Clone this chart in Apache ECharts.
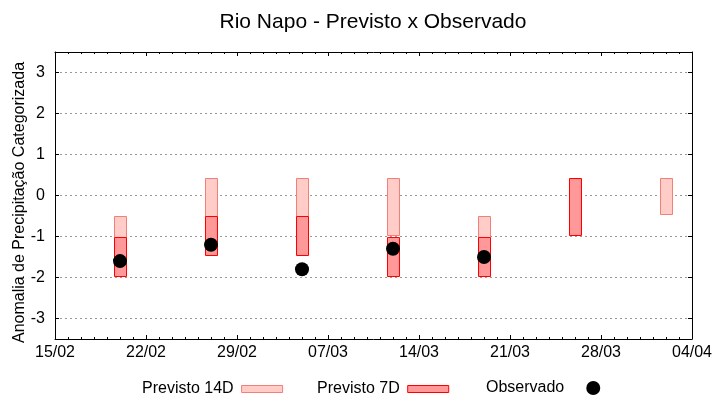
<!DOCTYPE html>
<html>
<head>
<meta charset="utf-8">
<script src="https://cdn.jsdelivr.net/npm/echarts@6/dist/echarts.min.js"></script>
<style>html,body{margin:0;padding:0;background:#fff}#c{width:720px;height:400px}</style>
</head>
<body>
<div id="c"></div>
<script>
// ---- data ----
var dates = ['2024-02-20','2024-02-27','2024-03-05','2024-03-12','2024-03-19','2024-03-26','2024-04-02'];
var prev14Low  = [-1.00, -0.50, -0.50, -0.95, -1.00, null, -0.44];
var prev14High = [-0.50,  0.43,  0.43,  0.43, -0.50, null,  0.43];
var prev7Low   = [-1.95, -1.44, -1.44, -1.95, -1.95, -0.95, null];
var prev7High  = [-1.00, -0.50, -0.50, -1.00, -1.00,  0.43, null];
var observado  = [-1.60, -1.20, -1.80, -1.30, -1.50, null, null];
var xStart = '2024-02-15', xEnd = '2024-04-04';
var yTicks = [-3, -2, -1, 0, 1, 2, 3];

var DAY = 86400000;
function ts(s){ var p = s.split('-'); return Date.UTC(+p[0], +p[1]-1, +p[2]); }
function pad(n){ return (n<10?'0':'')+n; }
function fmt(v){ var d = new Date(v); return pad(d.getUTCDate())+'/'+pad(d.getUTCMonth()+1); }

function rangeData(lo, hi){
  var out = [];
  for (var i=0;i<dates.length;i++){ if (lo[i]!==null && hi[i]!==null) out.push([ts(dates[i]), lo[i], hi[i]]); }
  return out;
}
var obsData = [];
for (var i=0;i<dates.length;i++){ if (observado[i]!==null) obsData.push([ts(dates[i]), observado[i]]); }

function makeRender(fill, stroke){
  return function(params, api){
    var x = api.value(0), lo = api.value(1), hi = api.value(2);
    var p1 = api.coord([x, hi]), p2 = api.coord([x, lo]);
    var w = api.size([DAY, 0])[0] * 0.92;
    return {
      type: 'rect',
      shape: { x: Math.round(p1[0] - w/2) + 0.5, y: Math.round(p1[1]) + 0.5, width: Math.round(w), height: Math.round(p2[1]-p1[1]) },
      style: { fill: fill, stroke: stroke, lineWidth: 1 }
    };
  };
}

var FONT = 'Liberation Sans, Arial, sans-serif';
var c14 = {fill:'#ffccc8', stroke:'#f08078'};
var c7 = {fill:'#ff9999', stroke:'#ff0000'};

var xMin = ts(xStart), xMax = ts(xEnd);
var chart = echarts.init(document.getElementById('c'), null, {renderer:'canvas'});
var legendText = {fontFamily: FONT, fontSize: 16, color: '#000', padding: [0, 3, 0, 0]};
chart.setOption({
  animation: false,
  backgroundColor: '#fff',
  title: {
    text: 'Rio Napo - Previsto x Observado',
    left: 368, top: 7, textAlign: 'center',
    textStyle: {fontFamily: FONT, fontSize: 21, fontWeight: 'normal', color: '#000'}
  },
  legend: [
    {left: 142, top: 381, padding: 0, align: 'right', itemWidth: 41, itemHeight: 7, textStyle: legendText, selectedMode: false,
     data: [{name: 'Previsto 14D', icon: 'rect', itemStyle: {color: c14.fill, borderColor: c14.stroke, borderWidth: 1}}]},
    {left: 317, top: 381, padding: 0, align: 'right', itemWidth: 41, itemHeight: 7, textStyle: legendText, selectedMode: false,
     data: [{name: 'Previsto 7D', icon: 'rect', itemStyle: {color: c7.fill, borderColor: c7.stroke, borderWidth: 1}}]},
    {left: 486, top: 380, padding: 0, align: 'right', itemWidth: 42, itemHeight: 14, textStyle: legendText, selectedMode: false,
     data: [{name: 'Observado', icon: 'circle', itemStyle: {color: '#000', opacity: 1}}]}
  ],
  grid: {left: 55, right: 28, top: 52, bottom: 61, outerBoundsMode: 'none', containLabel: false},
  xAxis: [
    {type: 'value', min: xMin, max: xMax, interval: 7*DAY, position: 'bottom',
     axisLine: {show: true, onZero: false, lineStyle: {color: '#000', width: 1}},
     axisTick: {show: true, inside: true, length: 4, lineStyle: {color: '#000'}},
     minorTick: {show: true, splitNumber: 7, length: 2, lineStyle: {color: '#000'}},
     axisLabel: {formatter: fmt, fontFamily: FONT, fontSize: 16, color: '#000', margin: 6},
     splitLine: {show: false}},
    {type: 'value', min: xMin, max: xMax, interval: 7*DAY, position: 'top',
     axisLine: {show: true, onZero: false, lineStyle: {color: '#000', width: 1}},
     axisTick: {show: true, inside: true, length: 4, lineStyle: {color: '#000'}},
     minorTick: {show: true, splitNumber: 7, length: 2, lineStyle: {color: '#000'}},
     axisLabel: {show: false}, splitLine: {show: false}}
  ],
  yAxis: [
    {type: 'value', min: -3.5, max: 3.5, position: 'left',
     name: 'Anomalia de Precipitação Categorizada', nameLocation: 'middle', nameGap: 27, nameMoveOverlap: false,
     nameTextStyle: {fontFamily: FONT, fontSize: 16, color: '#000', padding: [0, 0, 0, -14]},
     axisLine: {show: true, onZero: false, lineStyle: {color: '#000', width: 1}},
     axisTick: {show: true, inside: true, length: 4, lineStyle: {color: '#000'}, customValues: yTicks},
     axisLabel: {fontFamily: FONT, fontSize: 16, color: '#000', margin: 10, customValues: yTicks},
     splitLine: {show: true, lineStyle: {color: '#999', type: [2, 3], width: 1}}},
    {type: 'value', min: -3.5, max: 3.5, position: 'right',
     axisLine: {show: true, onZero: false, lineStyle: {color: '#000', width: 1}},
     axisTick: {show: true, inside: true, length: 4, lineStyle: {color: '#000'}, customValues: yTicks},
     axisLabel: {show: false, customValues: yTicks}, splitLine: {show: false}}
  ],
  series: [
    {name: 'Previsto 14D', type: 'custom', renderItem: makeRender(c14.fill, c14.stroke),
     itemStyle: {color: c14.fill}, encode: {x: 0, y: [1, 2]}, data: rangeData(prev14Low, prev14High), z: 2},
    {name: 'Previsto 7D', type: 'custom', renderItem: makeRender(c7.fill, c7.stroke),
     itemStyle: {color: c7.fill}, encode: {x: 0, y: [1, 2]}, data: rangeData(prev7Low, prev7High), z: 3},
    {name: 'Observado', type: 'scatter', symbol: 'circle', symbolSize: 14,
     itemStyle: {color: '#000', opacity: 1}, data: obsData, z: 4}
  ]
});
</script>
</body>
</html>
